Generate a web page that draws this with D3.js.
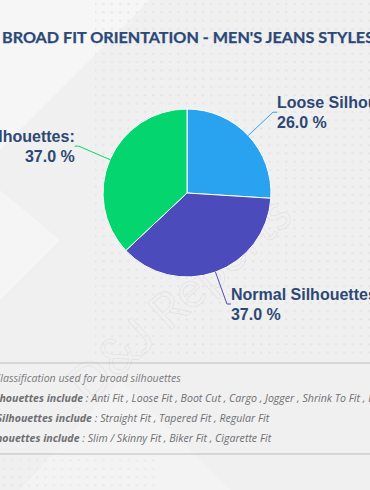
<!DOCTYPE html>
<html>
<head>
<meta charset="utf-8">
<script src="https://cdn.jsdelivr.net/npm/d3@7"></script>
<style>
  html, body { margin: 0; padding: 0; background: #f0f0f1; }
  svg { display: block; }
</style>
</head>
<body>
<div class="chart"></div>
<script>
'use strict';

const WIDTH = 370;
const HEIGHT = 490;

const TITLE = "BROAD FIT ORIENTATION - MEN'S JEANS STYLES";

const categories = ['Loose Silhouettes', 'Normal Silhouettes', 'Tight Silhouettes'];
const shares = [26.0, 37.0, 37.0];
const colors = ['#29a3ef', '#4b4bbb', '#05d56e'];

const noteTitle = 'Classification used for broad silhouettes';
const noteHeads = ['Loose Silhouettes include', 'Normal Silhouettes include', 'Tight Silhouettes include'];
const noteItems = [
  'Anti Fit , Loose Fit , Boot Cut , Cargo , Jogger , Shrink To Fit , Relaxed Fit',
  'Straight Fit , Tapered Fit , Regular Fit',
  'Slim / Skinny Fit , Biker Fit , Cigarette Fit'
];

const svg = d3.select('.chart')
  .append('svg')
    .attr('width', WIDTH)
    .attr('height', HEIGHT);

// background
const defs = svg.append('defs');
defs.append('pattern')
    .attr('id', 'dots')
    .attr('width', 8.3)
    .attr('height', 8.3)
    .attr('patternUnits', 'userSpaceOnUse')
  .append('circle')
    .attr('cx', 4)
    .attr('cy', 4)
    .attr('r', 1.1)
    .attr('fill', '#e1e1e4');

svg.append('rect')
    .attr('width', WIDTH)
    .attr('height', HEIGHT)
    .attr('fill', '#f0f0f1');

svg.append('path')
    .attr('d', 'M0,0 L150,0 L0,150 Z')
    .attr('fill', '#f6f6f7');
svg.append('path')
    .attr('d', 'M0,190 L60,240 L0,300 Z')
    .attr('fill', '#f5f5f6');
svg.append('path')
    .attr('d', 'M20,490 L120,380 L230,490 Z')
    .attr('fill', '#f3f3f4');

svg.append('rect')
    .attr('x', 95)
    .attr('y', 0)
    .attr('width', WIDTH - 95)
    .attr('height', 360)
    .attr('fill', 'url(#dots)')
    .attr('opacity', 0.8);
svg.append('rect')
    .attr('x', 0)
    .attr('y', 458)
    .attr('width', 160)
    .attr('height', 32)
    .attr('fill', 'url(#dots)')
    .attr('opacity', 0.6);

// watermark
svg.append('text')
    .attr('transform', 'translate(88,405) rotate(-42)')
    .attr('font-family', 'Lato, sans-serif')
    .attr('font-size', 50)
    .attr('fill', 'none')
    .attr('stroke', '#e0e0e2')
    .attr('stroke-width', 0.6)
    .text('D&J Reports');

// title
svg.append('text')
    .attr('x', 2)
    .attr('y', 42.5)
    .attr('font-family', 'Lato, sans-serif')
    .attr('font-weight', 'bold')
    .attr('font-size', 14.5)
    .attr('fill', '#2b4877')
    .attr('stroke', '#2b4877')
    .attr('stroke-width', 0.25)
    .attr('textLength', 372)
    .attr('lengthAdjust', 'spacingAndGlyphs')
    .text(TITLE);

// pie
const cx = 187, cy = 193, R = 84;
const data = categories.map((c, i) => ({name: c, value: shares[i], color: colors[i]}));

const pie = d3.pie().sort(null).value((d) => d.value);
const arc = d3.arc().innerRadius(0).outerRadius(R);
const outer = d3.arc().innerRadius(118).outerRadius(118);
const onEdge = d3.arc().innerRadius(R).outerRadius(R);

const g = svg.append('g').attr('transform', `translate(${cx},${cy})`);
const arcs = pie(data);

g.selectAll('path.slice')
  .data(arcs)
  .enter().append('path')
    .attr('class', 'slice')
    .attr('d', arc)
    .attr('fill', (d) => d.data.color)
    .attr('stroke', '#ffffff')
    .attr('stroke-width', 1);

function midAngle(d) { return (d.startAngle + d.endAngle) / 2; }

g.selectAll('polyline')
  .data(arcs)
  .enter().append('polyline')
    .attr('fill', 'none')
    .attr('stroke', (d) => d.data.color)
    .attr('stroke-width', 1)
    .attr('points', (d) => {
      const a = onEdge.centroid(d);
      const b = outer.centroid(d);
      const dir = midAngle(d) < Math.PI ? 1 : -1;
      return [a, b, [b[0] + dir * 4, b[1]]].map((p) => p.join(',')).join(' ');
    });

const labels = g.selectAll('text.lbl')
  .data(arcs)
  .enter().append('text')
    .attr('class', 'lbl')
    .attr('font-family', '"Liberation Sans", Arial, sans-serif')
    .attr('font-weight', 'bold')
    .attr('font-size', 16)
    .attr('fill', '#2d4873')
    .attr('text-anchor', (d) => midAngle(d) < Math.PI ? 'start' : 'end')
    .attr('transform', (d) => {
      const b = outer.centroid(d);
      const dir = midAngle(d) < Math.PI ? 1 : -1;
      return `translate(${b[0] + dir * 4},${b[1]})`;
    });

labels.append('tspan')
    .attr('x', 0)
    .attr('y', -4)
    .text((d) => d.data.name + ':');
labels.append('tspan')
    .attr('x', 0)
    .attr('y', 15.5)
    .text((d) => d3.format('.1f')(d.data.value) + ' %');

// notes box
svg.append('line')
    .attr('x1', 0).attr('x2', WIDTH)
    .attr('y1', 363).attr('y2', 363)
    .attr('stroke', '#bdbdbf')
    .attr('stroke-width', 1);
svg.append('line')
    .attr('x1', 0).attr('x2', WIDTH)
    .attr('y1', 454).attr('y2', 454)
    .attr('stroke', '#bdbdbf')
    .attr('stroke-width', 1);

const noteFont = '"Open Sans", sans-serif';

svg.append('text')
    .attr('x', -6)
    .attr('y', 382)
    .attr('font-family', noteFont)
    .attr('font-style', 'italic')
    .attr('font-size', 10.6)
    .attr('fill', '#7a7a7c')
    .text(noteTitle);

const rows = svg.selectAll('text.note')
  .data(noteHeads)
  .enter().append('text')
    .attr('class', 'note')
    .attr('x', -44)
    .attr('y', (d, i) => 402 + i * 20)
    .attr('font-family', noteFont)
    .attr('font-style', 'italic')
    .attr('font-size', 10.6)
    .attr('fill', '#6f6f71');

rows.append('tspan')
    .attr('font-weight', 'bold')
    .text((d) => d + ' ');
rows.append('tspan')
    .text((d, i) => ': ' + noteItems[i]);
</script>
</body>
</html>
